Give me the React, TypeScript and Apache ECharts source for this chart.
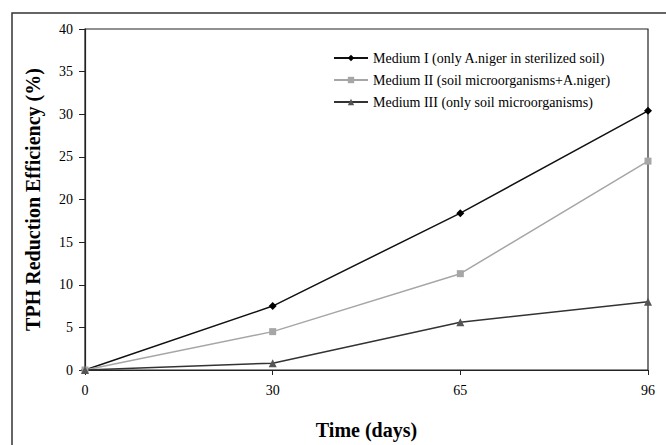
import React, { useEffect, useRef } from "react";
import * as echarts from "echarts";

const categories = ["0", "30", "65", "96"];
const mediumI = [0, 7.5, 18.4, 30.4];
const mediumII = [0, 4.5, 11.3, 24.5];
const mediumIII = [0, 0.8, 5.6, 8.0];
const seriesNames = [
  "Medium I (only A.niger in sterilized soil)",
  "Medium II (soil microorganisms+A.niger)",
  "Medium III (only soil microorganisms)",
];

const serif = "'Liberation Serif', 'DejaVu Serif', serif";

export default function App() {
  const ref = useRef<HTMLDivElement>(null);
  useEffect(() => {
    if (!ref.current) return;
    const chart = echarts.init(ref.current, undefined, { renderer: "svg" });
    chart.setOption({
      animation: false,
      backgroundColor: "#fff",
      graphic: [
        {
          type: "rect",
          shape: { x: 12, y: 13, width: 720, height: 500 },
          style: { fill: "none", stroke: "#333", lineWidth: 1.5 },
          silent: true,
          z: -1,
        },
      ],
      grid: {
        left: 85,
        right: 18,
        top: 29,
        bottom: 69,
        show: true,
        borderColor: "#222",
        borderWidth: 1.2,
        backgroundColor: "transparent",
      },
      legend: {
        orient: "vertical",
        left: 328,
        top: 46,
        itemGap: 8,
        itemWidth: 34,
        itemHeight: 8,
        textStyle: { fontFamily: serif, fontSize: 14, color: "#000" },
        data: seriesNames,
      },
      xAxis: {
        type: "category",
        data: categories,
        boundaryGap: false,
        axisLine: { lineStyle: { color: "#222", width: 1.2 } },
        axisTick: { show: true, alignWithLabel: true, length: 5, lineStyle: { color: "#222" } },
        axisLabel: { fontFamily: serif, fontSize: 14, color: "#000", margin: 13 },
        name: "Time (days)",
        nameLocation: "middle",
        nameGap: 50,
        nameTextStyle: { fontFamily: serif, fontSize: 20, fontWeight: "bold", color: "#000" },
        splitLine: { show: false },
      },
      yAxis: {
        type: "value",
        min: 0,
        max: 40,
        interval: 5,
        axisLine: { show: true, lineStyle: { color: "#222", width: 1.2 } },
        axisTick: { show: true, length: 6, lineStyle: { color: "#222" } },
        axisLabel: { fontFamily: serif, fontSize: 14, color: "#000", margin: 12 },
        splitLine: { show: false },
        name: "TPH Reduction Efficiency (%)",
        nameLocation: "middle",
        nameGap: 42,
        nameTextStyle: { fontFamily: serif, fontSize: 20, fontWeight: "bold", color: "#000" },
      },
      series: [
        {
          name: seriesNames[0],
          type: "line",
          data: mediumI,
          symbol: "diamond",
          symbolSize: 8,
          lineStyle: { color: "#111", width: 1.5 },
          itemStyle: { color: "#000" },
        },
        {
          name: seriesNames[1],
          type: "line",
          data: mediumII,
          symbol: "rect",
          symbolSize: 7,
          lineStyle: { color: "#a6a6a6", width: 1.5 },
          itemStyle: { color: "#a6a6a6" },
        },
        {
          name: seriesNames[2],
          type: "line",
          data: mediumIII,
          symbol: "triangle",
          symbolSize: 8,
          lineStyle: { color: "#333", width: 1.5 },
          itemStyle: { color: "#555" },
        },
      ],
    });
    return () => chart.dispose();
  }, []);
  return (
    <div
      ref={ref}
      style={{ position: "absolute", left: 0, top: 0, width: 666, height: 445 }}
    />
  );
}
